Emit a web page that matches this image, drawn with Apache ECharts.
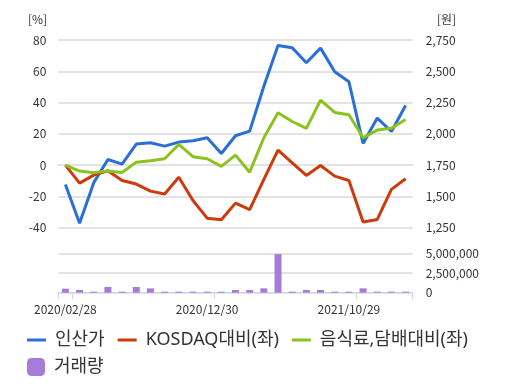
<!DOCTYPE html>
<html><head><meta charset="utf-8">
<script src="https://cdn.jsdelivr.net/npm/echarts@6/dist/echarts.min.js"></script>
<style>html,body{margin:0;padding:0;background:#fff}#c{width:509px;height:386px}</style>
</head><body><div id="c"></div>
<script>
const categories = ['2020/02/28','2020/03/31','2020/04/29','2020/05/29','2020/06/30','2020/07/31','2020/08/31','2020/09/29','2020/10/30','2020/11/30','2020/12/30','2021/01/29','2021/02/26','2021/03/31','2021/04/30','2021/05/31','2021/06/30','2021/07/30','2021/08/31','2021/09/30','2021/10/29','2021/11/30','2021/12/30','2022/01/28','2022/02/28'];
const priceWon = [1595,1285,1610,1795,1758,1918,1929,1902,1934,1945,1969,1843,1985,2022,2381,2706,2688,2568,2685,2496,2416,1923,2126,2019,2227];
const kosdaqRel = [0,-11.5,-6.4,-3.6,-9.8,-12.1,-16.6,-18.5,-7.7,-22.6,-33.9,-34.9,-24.3,-28.5,-9.1,9.6,1.5,-6.6,-0.2,-7,-9.8,-36.4,-34.7,-15.5,-8.7];
const foodRel = [0,-3.8,-4.9,-3.8,-4.7,1.9,2.8,4.1,13.2,5.4,4.1,-0.8,6.4,-4.5,17.5,33.5,27.9,23.5,41.5,33.7,32.2,17.5,22.4,23.6,29.2];
const volume = [510000,340000,130000,720000,130000,720000,550000,130000,130000,130000,130000,130000,340000,340000,550000,4900000,130000,340000,340000,130000,130000,550000,130000,130000,130000];
const labelIdx = [0,10,20];
const tickIdx = [0,1,11,21];

const FONT = '"Noto Sans CJK KR","Noto Sans",sans-serif';
const LFONT = '"Noto Sans","Noto Sans CJK KR",sans-serif';
const grid = '#e3e3e3';
const fmt = v => Number(v).toLocaleString('en-US');
const chart = echarts.init(document.getElementById('c'));
chart.setOption({
  animation:false,
  textStyle:{fontFamily:FONT},
  grid:[
    {left:58.3,right:96.3,top:40,height:187.7},
    {left:58.3,right:96.3,top:253.3,height:39.4}
  ],
  graphic:[
    {type:'text',left:28,top:13,style:{text:'[%]',font:'12px '+FONT,fill:'#333'}},
    {type:'text',left:437,top:13,style:{text:'[원]',font:'12px '+FONT,fill:'#333'}}
  ],
  legend:[
    {data:[
      {name:'인산가',icon:'path://M0,0H19V3H0Z'},
      {name:'KOSDAQ대비(좌)',icon:'path://M0,0H19V3H0Z'},
      {name:'음식료,담배대비(좌)',icon:'path://M0,0H19V3H0Z'}],
     left:22,top:326,itemWidth:19,itemHeight:18,itemGap:13,
     textStyle:{fontSize:18,color:'#333',fontFamily:LFONT,padding:[0,0,0,4],lineHeight:18}},
    {data:[{name:'거래량',icon:'roundRect'}],
     left:22,top:353,itemWidth:18,itemHeight:18,
     textStyle:{fontSize:18,color:'#333',fontFamily:LFONT,padding:[0,0,0,4],lineHeight:18}}
  ],
  xAxis:[
    {type:'category',gridIndex:0,data:categories,boundaryGap:true,offset:5,
     axisLine:{show:true,lineStyle:{color:grid,width:2}},axisTick:{show:false},axisLabel:{show:false}},
    {type:'category',gridIndex:1,data:categories,boundaryGap:true,
     axisLine:{show:true,lineStyle:{color:'#ccd6eb',width:1}},
     axisTick:{show:true,length:6,lineStyle:{color:'#ccd6eb'},interval:(i)=>tickIdx.includes(i)},
     axisLabel:{interval:(i)=>labelIdx.includes(i),margin:11,fontSize:12,color:'#333',fontFamily:FONT}}
  ],
  yAxis:[
    {type:'value',gridIndex:0,min:-40,max:80,interval:20,
     axisLabel:{fontSize:12,color:'#333',margin:12,fontFamily:FONT},
     splitLine:{lineStyle:{color:grid,width:2}},axisLine:{show:false},axisTick:{show:false}},
    {type:'value',gridIndex:0,position:'right',min:1250,max:2750,interval:250,
     axisLabel:{fontSize:12,color:'#333',margin:13,formatter:fmt,fontFamily:FONT},
     splitLine:{show:false},axisLine:{show:false},axisTick:{show:false}},
    {type:'value',gridIndex:1,position:'right',min:0,max:5000000,interval:2500000,
     axisLabel:{fontSize:12,color:'#333',margin:13,formatter:fmt,fontFamily:FONT},
     splitLine:{lineStyle:{color:grid,width:2}},axisLine:{show:false},axisTick:{show:false}}
  ],
  series:[
    {name:'인산가',type:'line',xAxisIndex:0,yAxisIndex:1,data:priceWon,symbol:'none',
     lineStyle:{width:3,color:'#2a6fd6'},itemStyle:{color:'#2a6fd6'}},
    {name:'KOSDAQ대비(좌)',type:'line',xAxisIndex:0,yAxisIndex:0,data:kosdaqRel,symbol:'none',
     lineStyle:{width:3,color:'#cc3b0c'},itemStyle:{color:'#cc3b0c'}},
    {name:'음식료,담배대비(좌)',type:'line',xAxisIndex:0,yAxisIndex:0,data:foodRel,symbol:'none',
     lineStyle:{width:3,color:'#8cc21f'},itemStyle:{color:'#8cc21f'}},
    {name:'거래량',type:'bar',xAxisIndex:1,yAxisIndex:2,data:volume,barWidth:7,
     itemStyle:{color:'#a67cda'}}
  ]
});
</script></body></html>
